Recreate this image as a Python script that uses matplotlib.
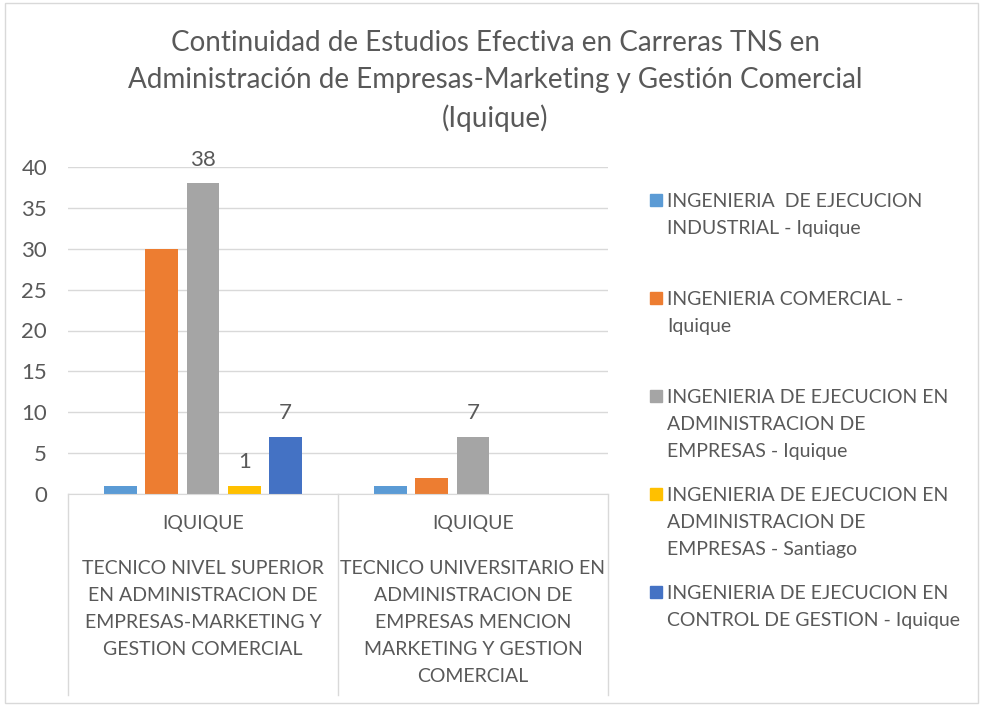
import numpy as np
import matplotlib
matplotlib.use("Agg")
import matplotlib.pyplot as plt
from matplotlib.patches import Rectangle

plt.rcParams["font.family"] = ["Lato", "DejaVu Sans"]

TITLE = ("Continuidad de Estudios Efectiva en Carreras TNS en\n"
         "Administración de Empresas-Marketing y Gestión Comercial\n"
         "(Iquique)")

CAMPUS = ["IQUIQUE", "IQUIQUE"]
CAREERS = [
    "TECNICO NIVEL SUPERIOR\nEN ADMINISTRACION DE\nEMPRESAS-MARKETING Y\nGESTION COMERCIAL",
    "TECNICO UNIVERSITARIO EN\nADMINISTRACION DE\nEMPRESAS MENCION\nMARKETING Y GESTION\nCOMERCIAL",
]

SERIES = [
    "INGENIERIA  DE EJECUCION\nINDUSTRIAL - Iquique",
    "INGENIERIA COMERCIAL -\nIquique",
    "INGENIERIA DE EJECUCION EN\nADMINISTRACION DE\nEMPRESAS - Iquique",
    "INGENIERIA DE EJECUCION EN\nADMINISTRACION DE\nEMPRESAS - Santiago",
    "INGENIERIA DE EJECUCION EN\nCONTROL DE GESTION - Iquique",
]
ing_industrial = [1, 1]
ing_comercial = [30, 2]
ing_admin_iqq = [38, 7]
ing_admin_stgo = [1, np.nan]
ing_control = [7, np.nan]
VALUES = [ing_industrial, ing_comercial, ing_admin_iqq, ing_admin_stgo, ing_control]
SHOW_LABELS = [False, False, True, True, True]

COLORS = ["#5B9BD5", "#ED7D31", "#A5A5A5", "#FFC000", "#4472C4"]
TXT = "#595959"
GRID = "#D9D9D9"

W, H = 985, 707


def fx(x):
    return x / W


def fy(y):
    return 1 - y / H


fig = plt.figure(figsize=(9.85, 7.07), dpi=100)
ax = fig.add_axes([fx(68), fy(494), fx(608) - fx(68), fy(167) - fy(494)])

xs = np.arange(len(CAMPUS))
step = 0.153
width = 0.122
for i, (vals, color) in enumerate(zip(VALUES, COLORS)):
    pos = xs + (i - 2) * step
    ax.bar(pos, np.nan_to_num(vals), width, color=color)
    if SHOW_LABELS[i]:
        for x, v in zip(pos, vals):
            if not np.isnan(v):
                ax.annotate(f"{v:g}", (x, v), xytext=(0, 17), textcoords="offset points",
                            ha="center", va="center", fontsize=16, color=TXT)

ax.set_xlim(-0.5, len(CAMPUS) - 0.5)
ax.set_ylim(0, 40)
ax.set_yticks(range(0, 41, 5))
ax.tick_params(axis="y", length=0, labelsize=16, labelcolor=TXT, pad=15)
ax.set_xticks([])
ax.yaxis.grid(True, color=GRID, linewidth=1)
ax.set_axisbelow(True)
for s in ["top", "right", "left"]:
    ax.spines[s].set_visible(False)
ax.spines["bottom"].set_color(GRID)

# category axis boxes
tr = ax.get_xaxis_transform()
span = 494 - 167
for edge in np.arange(-0.5, len(CAMPUS), 1.0):
    ax.plot([edge, edge], [0, -(695 - 494) / span], transform=tr, color=GRID, lw=1,
            clip_on=False)
for x, campus, career in zip(xs, CAMPUS, CAREERS):
    ax.text(x, -(524 - 494) / span, campus, transform=tr, ha="center", va="center",
            fontsize=14, color=TXT)
    ax.text(x, -(560 - 494) / span, career, transform=tr, ha="center", va="top",
            fontsize=14, color=TXT, linespacing=1.72)

fig.text(0.503, fy(81), TITLE, ha="center", va="center", fontsize=20, color=TXT,
         linespacing=1.5)

# legend
for i, (label, color) in enumerate(zip(SERIES, COLORS)):
    ytop = 200 + i * 98
    fig.add_artist(Rectangle((fx(650), fy(ytop + 6)), fx(12), 12 / H, color=color,
                             transform=fig.transFigure))
    fig.text(fx(667), fy(ytop - 7), label, ha="left", va="top", fontsize=14, color=TXT,
             linespacing=1.7)

fig.add_artist(Rectangle((fx(5), fy(703)), fx(973), (703 - 3) / H, fill=False,
                         edgecolor=GRID, lw=1, transform=fig.transFigure))

fig.savefig("out.png", dpi=100)
